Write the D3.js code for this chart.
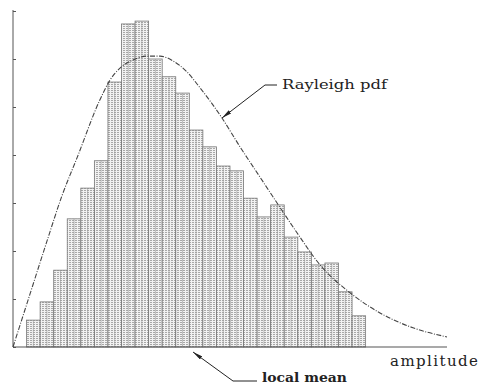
<!DOCTYPE html>
<html>
<head>
<meta charset="utf-8">
<script src="https://cdn.jsdelivr.net/npm/d3@7"></script>
<style>
  body { margin: 0; background: #fff; }
  svg { display: block; }
</style>
</head>
<body>
<svg id="chart" width="485" height="389"></svg>
<script>
// histogram bins (left edge, amplitude units) and their heights
var bins = [1,2,3,4,5,6,7,8,9,10,11,12,13,14,15,16,17,18,19,20,21,22,23,24,25];
var counts = [0.56,0.94,1.60,2.67,3.31,3.88,5.52,6.73,6.79,6.00,5.63,5.29,4.52,
              4.17,3.77,3.67,3.10,2.71,2.96,2.29,1.98,1.71,1.75,1.15,0.65];

// Rayleigh pdf curve
var pdfX = [0,1.25,2.51,3.61,4.72,6.41,7.15,7.89,8.85,9.88,10.84,11.80,12.83,
            13.79,15.41,16.74,18.21,19.47,20.94,22.64,24.85,27.06,29.49,32.0];
var pdfY = [0,1.10,2.21,3.15,3.94,5.15,5.56,5.81,5.98,6.06,6.06,5.96,5.73,
            5.40,4.77,4.17,3.54,3.00,2.38,1.71,1.13,0.71,0.40,0.21];

var yTicks = [0,1,2,3,4,5,6,7];

var svg = d3.select("#chart");

var x = d3.scaleLinear().domain([0, 32]).range([13, 447]);
var y = d3.scaleLinear().domain([0, 7]).range([347, 11]);

var defs = svg.append("defs");

// dotted hatch like the scanned bars
var pat = defs.append("pattern")
    .attr("id", "hatch")
    .attr("patternUnits", "userSpaceOnUse")
    .attr("width", 3).attr("height", 2);
pat.append("rect").attr("width", 3).attr("height", 2).attr("fill", "#f2f2f2");
pat.append("rect").attr("x", 0).attr("y", 0).attr("width", 2).attr("height", 1).attr("fill", "#a8a8a8");

defs.append("marker")
    .attr("id", "arrow")
    .attr("viewBox", "0 0 10 4")
    .attr("refX", 10).attr("refY", 2)
    .attr("markerWidth", 10).attr("markerHeight", 4)
    .attr("markerUnits", "userSpaceOnUse")
    .attr("orient", "auto")
  .append("path")
    .attr("d", "M0,0L10,2L0,4Z")
    .attr("fill", "#222");

// bars
var bw = x(2) - x(1);
svg.append("g").selectAll("rect")
    .data(bins)
  .enter().append("rect")
    .attr("x", function(d) { return x(d); })
    .attr("y", function(d, i) { return y(counts[i]); })
    .attr("width", bw)
    .attr("height", function(d, i) { return y(0) - y(counts[i]); })
    .attr("fill", "url(#hatch)")
    .attr("stroke", "#777")
    .attr("stroke-width", 0.8);

// a darker line down the middle of each bar, as in the scan
svg.append("g").selectAll("line")
    .data(bins)
  .enter().append("line")
    .attr("x1", function(d) { return x(d + 0.5); })
    .attr("x2", function(d) { return x(d + 0.5); })
    .attr("y1", function(d, i) { return y(counts[i]); })
    .attr("y2", y(0))
    .attr("stroke", "#999")
    .attr("stroke-width", 0.6);

// axes
var yAxis = d3.axisRight(y).tickValues(yTicks).tickSize(3).tickFormat("");
var gy = svg.append("g").attr("transform", "translate(" + x(0) + ",0)").call(yAxis);
gy.select(".domain").attr("d", "M0," + (y(7) - 1) + "V" + y(0));
gy.selectAll("line, path").attr("stroke", "#555");

svg.append("line")
    .attr("x1", x(0)).attr("x2", x(32))
    .attr("y1", y(0)).attr("y2", y(0))
    .attr("stroke", "#555").attr("stroke-width", 1.2);

// Rayleigh pdf
var line = d3.line()
    .x(function(d) { return x(d); })
    .y(function(d, i) { return y(pdfY[i]); })
    .curve(d3.curveMonotoneX);

svg.append("path")
    .attr("d", line(pdfX))
    .attr("fill", "none")
    .attr("stroke", "#444")
    .attr("stroke-width", 1.1)
    .attr("stroke-dasharray", "5,1.5,1,1.5");

// annotations
svg.append("path")
    .attr("d", "M277,85L265,85L222,118")
    .attr("fill", "none").attr("stroke", "#222").attr("stroke-width", 1)
    .attr("marker-end", "url(#arrow)");

svg.append("path")
    .attr("d", "M257,381L233,381L193,352")
    .attr("fill", "none").attr("stroke", "#222").attr("stroke-width", 1)
    .attr("marker-end", "url(#arrow)");

svg.append("text")
    .attr("x", 282).attr("y", 89)
    .attr("font-family", "DejaVu Serif").attr("font-size", 13.5)
    .attr("fill", "#222")
    .attr("textLength", 105).attr("lengthAdjust", "spacingAndGlyphs")
    .text("Rayleigh pdf");

svg.append("text")
    .attr("x", 390).attr("y", 366)
    .attr("font-family", "DejaVu Serif").attr("font-size", 15)
    .attr("fill", "#222")
    .attr("textLength", 88).attr("lengthAdjust", "spacing")
    .text("amplitude");

svg.append("text")
    .attr("x", 262).attr("y", 382)
    .attr("font-family", "DejaVu Serif").attr("font-size", 12.5)
    .attr("font-weight", "bold")
    .attr("fill", "#222")
    .attr("textLength", 85).attr("lengthAdjust", "spacingAndGlyphs")
    .text("local mean");
</script>
</body>
</html>
